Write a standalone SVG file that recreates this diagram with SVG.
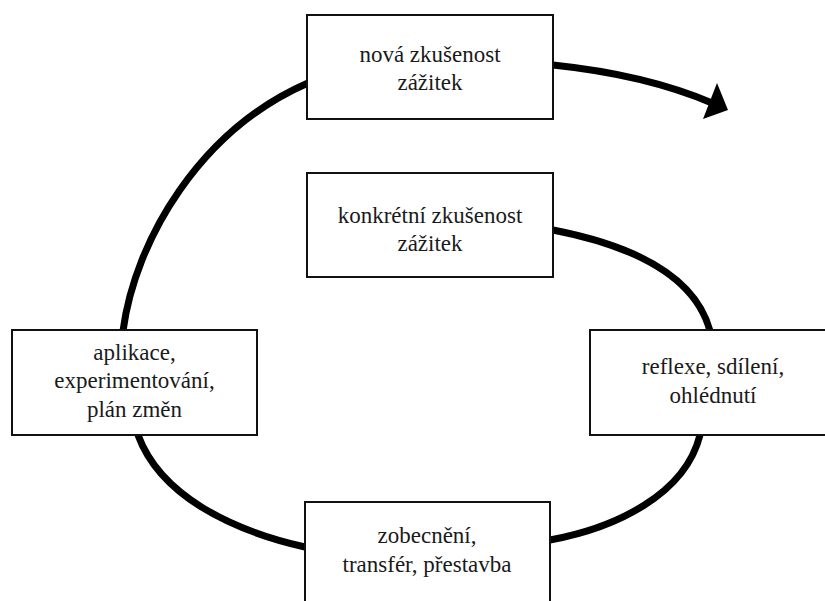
<svg xmlns="http://www.w3.org/2000/svg" width="825" height="601" viewBox="0 0 825 601">
<style>
.box{fill:#fff;stroke:#111;stroke-width:2}
.lbl{font-size:23px;fill:#1a1a1a;text-anchor:middle}
.con{fill:none;stroke:#000;stroke-width:7}
</style>
<rect width="825" height="601" fill="#fff"/>
<g id="connectors">
<path class="con" d="M123,331 C135,240 200,130 308,83"/>
<path class="con" d="M553,65 C620,72 670,85 712,103"/>
<path d="M728,110 L717,83 L703,119 Z" fill="#000"/>
<path class="con" d="M553,230 C630,245 695,275 710,331"/>
<path class="con" d="M700,435 C685,495 615,528 550,540"/>
<path class="con" d="M138,435 C160,495 230,530 305,547"/>
</g>
<g font-family="'Liberation Serif', 'Times New Roman', Tinos, 'DejaVu Serif', serif">
<g id="n1">
<rect class="box" x="307" y="15" width="246" height="104"/>
<text class="lbl" x="430" y="62">nová zkušenost</text>
<text class="lbl" x="430" y="90">zážitek</text>
</g>
<g id="n2">
<rect class="box" x="307" y="173" width="246" height="104"/>
<text class="lbl" x="430" y="223">konkrétní zkušenost</text>
<text class="lbl" x="430" y="251">zážitek</text>
</g>
<g id="n3">
<rect class="box" x="590" y="330" width="248" height="105"/>
<text class="lbl" x="713" y="374">reflexe, sdílení,</text>
<text class="lbl" x="713" y="403">ohlédnutí</text>
</g>
<g id="n4">
<rect class="box" x="305" y="502" width="245" height="120"/>
<text class="lbl" x="427" y="543">zobecnění,</text>
<text class="lbl" x="427" y="572">transfér, přestavba</text>
</g>
<g id="n5">
<rect class="box" x="12" y="330" width="245" height="105"/>
<text class="lbl" x="134.5" y="360">aplikace,</text>
<text class="lbl" x="134.5" y="388">experimentování,</text>
<text class="lbl" x="134.5" y="417">plán změn</text>
</g>
</g>
</svg>
